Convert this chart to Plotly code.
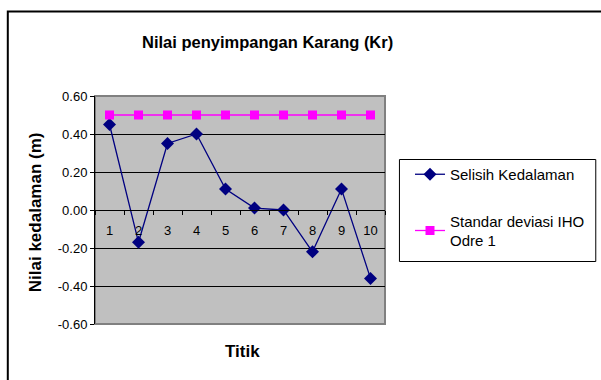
import plotly.graph_objects as go

# Measurement points and values (m)
titik = ["1", "2", "3", "4", "5", "6", "7", "8", "9", "10"]
selisih_kedalaman = [0.45, -0.17, 0.35, 0.40, 0.11, 0.01, 0.00, -0.22, 0.11, -0.36]
standar_deviasi = [0.50, 0.50, 0.50, 0.50, 0.50, 0.50, 0.50, 0.50, 0.50, 0.50]
y_ticks = [-0.6, -0.4, -0.2, 0.0, 0.2, 0.4, 0.6]
y_tick_labels = [f"{v:.2f}" for v in y_ticks]

FONT = "Liberation Sans, Arial, sans-serif"
W, H = 601, 380
ML, MR, MT, MB = 95, 215, 96, 56
PW, PH = W - ML - MR, H - MT - MB


def px_x(x):
    return (x - ML) / PW


def px_y(y):
    return (H - MB - y) / PH


fig = go.Figure()
fig.add_trace(go.Scatter(
    x=titik, y=selisih_kedalaman, mode="lines+markers",
    name="Selisih Kedalaman", legendgroup="a",
    line=dict(color="#000080", width=1.3),
    marker=dict(symbol="diamond", size=10, color="#000080"),
))
fig.add_trace(go.Scatter(
    x=titik, y=standar_deviasi, mode="lines+markers",
    name="Standar deviasi IHO<br>Odre 1", legendgroup="b",
    line=dict(color="#FF00FF", width=1.3),
    marker=dict(symbol="square", size=9, color="#FF00FF"),
))

fig.update_layout(
    width=W, height=H, autosize=False,
    margin=dict(l=ML, r=MR, t=MT, b=MB, pad=0),
    paper_bgcolor="white", plot_bgcolor="#C0C0C0",
    font=dict(family=FONT, color="black", size=13),
    showlegend=True,
    legend=dict(
        x=px_x(410), y=px_y(158), xanchor="left", yanchor="top",
        font=dict(family=FONT, size=15, color="black"),
        bgcolor="rgba(0,0,0,0)", borderwidth=0,
        tracegroupgap=24,
    ),
    xaxis=dict(
        type="category", range=[-0.5, 9.5],
        anchor="free", position=0.5,
        showline=True, linecolor="black", linewidth=1,
        ticks="outside", ticklen=4, tickcolor="black", tickson="boundaries",
        ticklabelstandoff=8,
        showgrid=False, zeroline=False,
        tickfont=dict(family=FONT, size=13, color="black"),
    ),
    yaxis=dict(
        range=[-0.6, 0.6], tickvals=y_ticks, ticktext=y_tick_labels,
        showline=True, linecolor="black", linewidth=1,
        ticks="outside", ticklen=4, tickcolor="black",
        showgrid=True, gridcolor="black", gridwidth=1,
        zeroline=True, zerolinecolor="black", zerolinewidth=1,
        tickfont=dict(family=FONT, size=13, color="black"),
    ),
    shapes=[
        # outer chart frame
        dict(type="rect", xref="paper", yref="paper",
             x0=px_x(7.5), x1=px_x(640), y0=px_y(420), y1=px_y(11.5),
             line=dict(color="black", width=2), fillcolor="rgba(0,0,0,0)"),
        # plot area frame
        dict(type="rect", xref="paper", yref="paper",
             x0=0, x1=1, y0=0, y1=1, layer="below",
             line=dict(color="#808080", width=2), fillcolor="rgba(0,0,0,0)"),
        # legend frame
        dict(type="rect", xref="paper", yref="paper",
             x0=px_x(400.5), x1=px_x(597.5), y0=px_y(261.5), y1=px_y(159.5),
             line=dict(color="black", width=1), fillcolor="rgba(0,0,0,0)"),
    ],
    annotations=[
        dict(text="<b>Nilai penyimpangan Karang (Kr)</b>", showarrow=False,
             xref="paper", yref="paper", x=px_x(268), y=px_y(42),
             xanchor="center", yanchor="middle",
             font=dict(family=FONT, size=16.5, color="black")),
        dict(text="<b>Nilai kedalaman (m)</b>", showarrow=False, textangle=-90,
             xref="paper", yref="paper", x=px_x(35), y=px_y(212),
             xanchor="center", yanchor="middle",
             font=dict(family=FONT, size=17, color="black")),
        dict(text="<b>Titik</b>", showarrow=False,
             xref="paper", yref="paper", x=px_x(243), y=px_y(351),
             xanchor="center", yanchor="middle",
             font=dict(family=FONT, size=17, color="black")),
    ],
)

fig.write_html("out.html")
